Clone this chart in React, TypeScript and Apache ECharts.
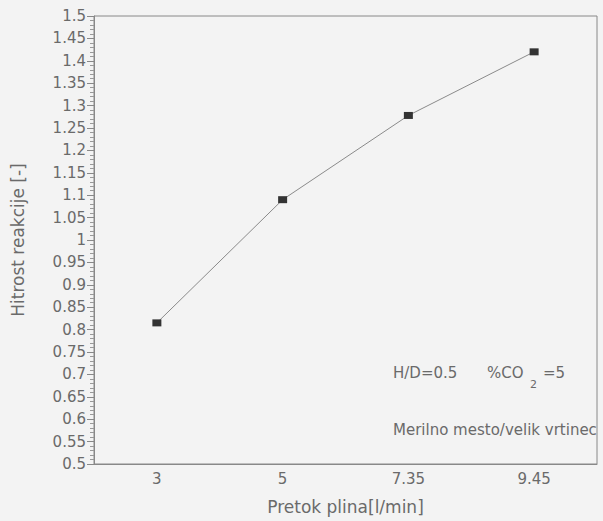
import React, { useEffect, useRef } from "react";
import * as echarts from "echarts";

const categories = ["3", "5", "7.35", "9.45"];
const values = [0.815, 1.09, 1.278, 1.42];
const yMin = 0.5;
const yMax = 1.5;
const yStep = 0.05;
const xName = "Pretok plina[l/min]";
const yName = "Hitrost reakcije [-]";
const noteHD = "H/D=0.5";
const noteCO = "%CO";
const noteSub = "2";
const noteEq = "=5";
const note2 = "Merilno mesto/velik vrtinec";

export default function App() {
  const ref = useRef<HTMLDivElement>(null);
  useEffect(() => {
    if (!ref.current) return;
    const chart = echarts.init(ref.current, null, { renderer: "svg" });
    const font = "'DejaVu Sans', sans-serif";
    const txt = "#6a6a6a";
    const noteStyle = { fontSize: 15, fill: txt, fontFamily: font, textVerticalAlign: "middle" };
    chart.setOption({
      animation: false,
      backgroundColor: "#f3f3f3",
      grid: { left: 94, top: 16, right: 6, bottom: 57, show: true, borderColor: "#888", borderWidth: 1, backgroundColor: "transparent" },
      xAxis: {
        type: "category",
        data: categories,
        boundaryGap: true,
        name: xName,
        nameLocation: "middle",
        nameGap: 34,
        nameTextStyle: { color: txt, fontSize: 17, fontFamily: font },
        axisLine: { lineStyle: { color: "#888" } },
        axisTick: { alignWithLabel: true, length: 4, lineStyle: { color: "#888" } },
        axisLabel: { color: txt, fontSize: 15, fontFamily: font, margin: 7 },
        splitLine: { show: false },
      },
      yAxis: {
        type: "value",
        min: yMin,
        max: yMax,
        interval: yStep,
        name: yName,
        nameLocation: "middle",
        nameGap: 68,
        nameTextStyle: { color: txt, fontSize: 17, fontFamily: font },
        axisLine: { show: true, lineStyle: { color: "#888" } },
        axisTick: { show: true, length: 7, lineStyle: { color: "#888" } },
        minorTick: { show: true, splitNumber: 5, length: 4, lineStyle: { color: "#999" } },
        axisLabel: {
          color: txt,
          fontSize: 15,
          fontFamily: font,
          margin: 8,
          formatter: (v: number) => String(parseFloat(v.toFixed(2))),
        },
        splitLine: { show: false },
      },
      series: [
        {
          type: "line",
          data: values,
          symbol: "rect",
          symbolSize: [9, 7],
          itemStyle: { color: "#333" },
          lineStyle: { color: "#8a8a8a", width: 1 },
        },
      ],
      graphic: [
        { type: "text", x: 393, y: 373, style: { ...noteStyle, text: noteHD } },
        { type: "text", x: 487, y: 373, style: { ...noteStyle, text: noteCO } },
        { type: "text", x: 530, y: 384, style: { ...noteStyle, fontSize: 11, text: noteSub } },
        { type: "text", x: 543, y: 373, style: { ...noteStyle, text: noteEq } },
        { type: "text", x: 393, y: 430, style: { ...noteStyle, text: note2 } },
      ],
    });
    return () => chart.dispose();
  }, []);
  return <div ref={ref} style={{ position: "fixed", left: 0, top: 0, width: 603, height: 521 }} />;
}
